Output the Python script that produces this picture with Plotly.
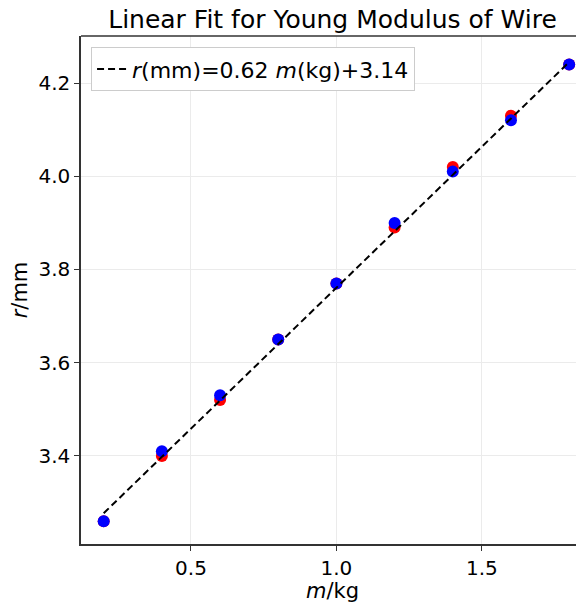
import plotly.graph_objects as go

# measured data (two readings per load)
mass_kg = [0.2, 0.4, 0.6, 0.8, 1.0, 1.2, 1.4, 1.6, 1.8]
r_red = [3.26, 3.40, 3.52, 3.65, 3.77, 3.89, 4.02, 4.13, 4.24]
r_blue = [3.26, 3.41, 3.53, 3.65, 3.77, 3.90, 4.01, 4.12, 4.24]

# fitted line end points
fit_x = [0.2, 1.8]
fit_y = [3.277, 4.245]

x_ticks = [0.5, 1.0, 1.5]
y_ticks = [3.4, 3.6, 3.8, 4.0, 4.2]

FONT = "DejaVu Sans"

fig = go.Figure()

fig.add_trace(go.Scatter(
    x=mass_kg, y=r_red, mode="markers",
    marker=dict(color="#ff0000", size=12),
    showlegend=False,
))
fig.add_trace(go.Scatter(
    x=mass_kg, y=r_blue, mode="markers",
    marker=dict(color="#0000ff", size=12),
    showlegend=False,
))
fig.add_trace(go.Scatter(
    x=fit_x, y=fit_y, mode="lines",
    line=dict(color="black", width=2, dash="7px,4px"),
    name="<i>r</i>(mm)=0.62 <i>m</i>(kg)+3.14",
))

# the page body adds an 8px offset, so the figure is 8px smaller
fig.update_layout(
    width=576, height=595,
    margin=dict(l=73, r=0, t=28, b=59),
    plot_bgcolor="white",
    paper_bgcolor="white",
    font=dict(family=FONT, size=20, color="black"),
    title=dict(
        text="Linear Fit for Young Modulus of Wire",
        x=0.5, xref="paper", xanchor="center",
        y=0.981, yanchor="middle",
        font=dict(size=25),
    ),
    xaxis=dict(
        range=[0.122, 1.851],
        tickvals=x_ticks,
        ticktext=[f"{v:.1f}" for v in x_ticks],
        showgrid=True, gridcolor="#ebebeb", gridwidth=1,
        zeroline=False,
        showline=True, linecolor="#333333", linewidth=1.5,
        ticks="outside", ticklen=5, tickcolor="#333333",
        title=dict(text="<i>m</i>/kg", font=dict(size=21), standoff=4),
    ),
    yaxis=dict(
        range=[3.211, 4.301],
        tickvals=y_ticks,
        ticktext=[f"{v:.1f}" for v in y_ticks],
        showgrid=True, gridcolor="#ebebeb", gridwidth=1,
        zeroline=False,
        showline=True, linecolor="#333333", linewidth=1.5,
        ticks="outside", ticklen=5, tickcolor="#333333",
        title=dict(text="<i>r</i>/mm", font=dict(size=21), standoff=6),
    ),
    legend=dict(
        x=0.02, y=0.978, xanchor="left", yanchor="top",
        bgcolor="white", bordercolor="#cccccc", borderwidth=1,
        font=dict(size=22),
    ),
    shapes=[dict(
        type="line", xref="paper", yref="paper",
        x0=0, x1=1, y0=1, y1=1,
        line=dict(color="#333333", width=1.5),
    )],
)

fig.write_html("out.html")
